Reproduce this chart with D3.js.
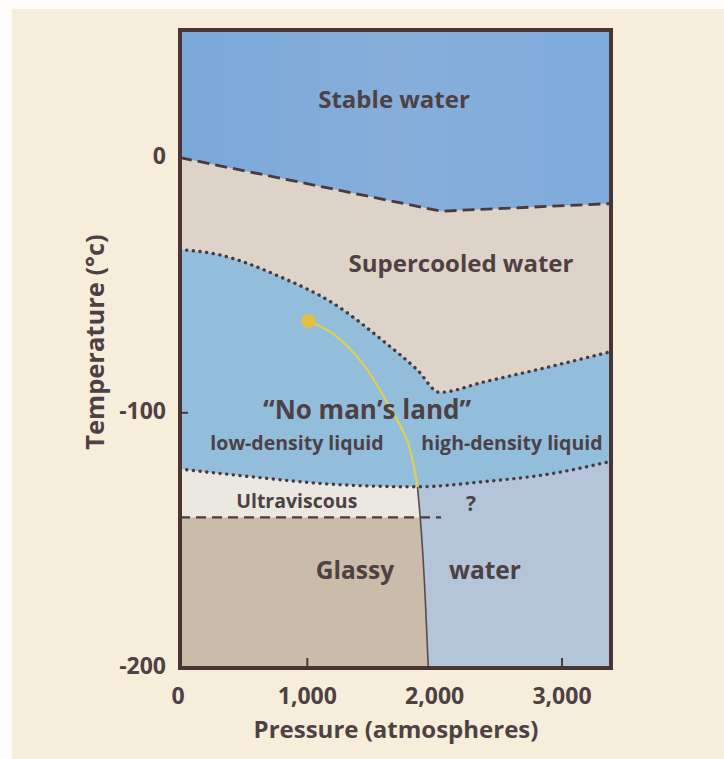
<!DOCTYPE html>
<html><head><meta charset="utf-8">
<script src="https://cdn.jsdelivr.net/npm/d3@7/dist/d3.min.js"></script>
<style>body{margin:0;background:#fdfbf8;}svg{display:block;}text{font-family:"Open Sans",sans-serif;font-weight:700;fill:#4e4144;}</style>
</head><body><svg id="c" width="724" height="759"></svg>
<script>
// Data (pressure in atmospheres, temperature in °C)
const meltingLine = [[0,0],[2050,-21],[3385,-18]];
const upperDotted = [[0,-36],[300,-38],[800,-47],[1200,-57],[1600,-72],[1860,-83],[2040,-92],[2380,-88],[2900,-82],[3385,-76]];
const lowerDotted = [[0,-122],[550,-125],[1200,-128],[1865,-129],[2380,-127],[2900,-124],[3385,-119]];
const glassLine = [[0,-141],[2050,-141]];
const boundary = [[1865,-129],[1895,-145],[1925,-170],[1950,-200]];
const yellowPath = [[1010,-64],[1200,-69],[1440,-81],[1650,-98],[1785,-111],[1865,-129]];
const criticalPoint = [1010,-64];
const xTicks = [0,1000,2000,3000];
const xTickLabels = ["0","1,000","2,000","3,000"];
const yTicks = [0,-100,-200];
const yTickLabels = ["0","-100","-200"];
const regionLabels = [
  {t:"Stable water", p:1681, T:22, s:24},
  {t:"Supercooled water", p:2207, T:-42.5, s:24},
  {t:"\u201cNo man\u2019s  land\u201d", p:1469, T:-99.7, s:26},
  {t:"low-density liquid", p:919, T:-112.6, s:19.5},
  {t:"high-density liquid", p:2607, T:-112.6, s:19.5},
  {t:"Ultraviscous", p:917, T:-135.3, s:19.5},
  {t:"?", p:2285, T:-136.1, s:21},
  {t:"Glassy", p:1374, T:-162.4, s:24.5},
  {t:"water", p:2395, T:-162.4, s:24.5}
];

const svg = d3.select("#c");
svg.append("rect").attr("x",12).attr("y",9).attr("width",712).attr("height",750).attr("fill","#f6eddb");

const x = d3.scaleLinear().domain([0,3385]).range([180,611]);
const y = d3.scaleLinear().domain([-200,50]).range([668,30]);

const defs = svg.append("defs");
defs.append("clipPath").attr("id","plot").append("rect").attr("x",180).attr("y",30).attr("width",431).attr("height",638);
const leftPoly = [[0,50],[1865,50]].concat(boundary).concat([[0,-200]]);
defs.append("clipPath").attr("id","left").append("path")
  .attr("d", d3.line().x(d=>x(d[0])).y(d=>y(d[1]))(leftPoly)+"Z");
const g1 = defs.append("linearGradient").attr("id","gStable").attr("x1",0).attr("x2",1);
g1.append("stop").attr("offset","0%").attr("stop-color","#79a8d9");
g1.append("stop").attr("offset","50%").attr("stop-color","#86aed9");
g1.append("stop").attr("offset","100%").attr("stop-color","#7eabdc");

const plot = svg.append("g").attr("clip-path","url(#plot)");
const curve = d3.curveMonotoneX;
const below = (data, curveType) => d3.area().curve(curveType).x(d=>x(d[0])).y0(y(-200)).y1(d=>y(d[1]))(data);

plot.append("rect").attr("x",180).attr("y",30).attr("width",431).attr("height",638).attr("fill","url(#gStable)");
plot.append("path").attr("d",below(meltingLine,d3.curveLinear)).attr("fill","#ddd3c8");
plot.append("path").attr("d",below(upperDotted,curve)).attr("fill","#92bedc");
plot.append("path").attr("d",below(lowerDotted,curve)).attr("fill","#b4c4d9");
const left = plot.append("g").attr("clip-path","url(#left)");
left.append("path").attr("d",below(lowerDotted,curve)).attr("fill","#ebe8e1");
left.append("path").attr("d",below(glassLine,d3.curveLinear)).attr("fill","#c9bcaa");

const line = (c)=>d3.line().curve(c).x(d=>x(d[0])).y(d=>y(d[1]));
const ink = "#4a3a3d";
plot.append("path").attr("d",line(d3.curveLinear)(meltingLine)).attr("fill","none").attr("stroke",ink).attr("stroke-width",2.8).attr("stroke-dasharray","12,6");
plot.append("path").attr("d",line(curve)(upperDotted)).attr("fill","none").attr("stroke",ink).attr("stroke-width",3.4).attr("stroke-linecap","round").attr("stroke-dasharray","0.1,6.6");
plot.append("path").attr("d",line(curve)(lowerDotted)).attr("fill","none").attr("stroke",ink).attr("stroke-width",3.4).attr("stroke-linecap","round").attr("stroke-dasharray","0.1,6.6");
plot.append("path").attr("d",line(d3.curveLinear)(glassLine)).attr("fill","none").attr("stroke",ink).attr("stroke-width",2.2).attr("stroke-dasharray","10,6");
plot.append("path").attr("d",line(d3.curveBasis)(boundary)).attr("fill","none").attr("stroke","#5a4a4e").attr("stroke-width",1.6);
plot.append("path").attr("d",line(d3.curveCatmullRom)(yellowPath)).attr("fill","none").attr("stroke","#e2d04c").attr("stroke-width",2.2);
plot.append("circle").attr("cx",x(criticalPoint[0])).attr("cy",y(criticalPoint[1])).attr("r",7).attr("fill","#e7bf3c");

// inner ticks
const tk = svg.append("g").attr("stroke",ink).attr("stroke-width",2);
[1000,3000].forEach(v=>tk.append("line").attr("x1",x(v)).attr("x2",x(v)).attr("y1",y(-200)).attr("y2",y(-200)-10));
[-100].forEach(v=>tk.append("line").attr("x1",x(0)).attr("x2",x(0)+8).attr("y1",y(v)).attr("y2",y(v)));

// frame
svg.append("rect").attr("x",180).attr("y",30).attr("width",431).attr("height",638).attr("fill","none").attr("stroke","#4a3436").attr("stroke-width",4);

// region labels
svg.append("g").selectAll("text").data(regionLabels).join("text")
  .attr("x",d=>x(d.p)).attr("y",d=>y(d.T)).attr("text-anchor","middle").attr("dominant-baseline","middle")
  .attr("font-size",d=>d.s).text(d=>d.t);

// axes labels
svg.append("g").selectAll("text").data(xTicks).join("text")
  .attr("x",(d,i)=>x(d)-(i===0?2:0)).attr("y",698).attr("text-anchor","middle").attr("dominant-baseline","middle")
  .attr("font-size",23).text((d,i)=>xTickLabels[i]);
svg.append("g").selectAll("text").data(yTicks).join("text")
  .attr("x",166).attr("y",d=>y(d)).attr("text-anchor","end").attr("dominant-baseline","middle")
  .attr("font-size",23).text((d,i)=>yTickLabels[i]);
svg.append("text").attr("x",396).attr("y",732).attr("text-anchor","middle").attr("dominant-baseline","middle").attr("font-size",24).text("Pressure (atmospheres)");
svg.append("text").attr("transform","translate(97,342) rotate(-90)").attr("text-anchor","middle").attr("dominant-baseline","middle").attr("font-size",25.5).text("Temperature (\u00b0c)");
</script></body></html>
